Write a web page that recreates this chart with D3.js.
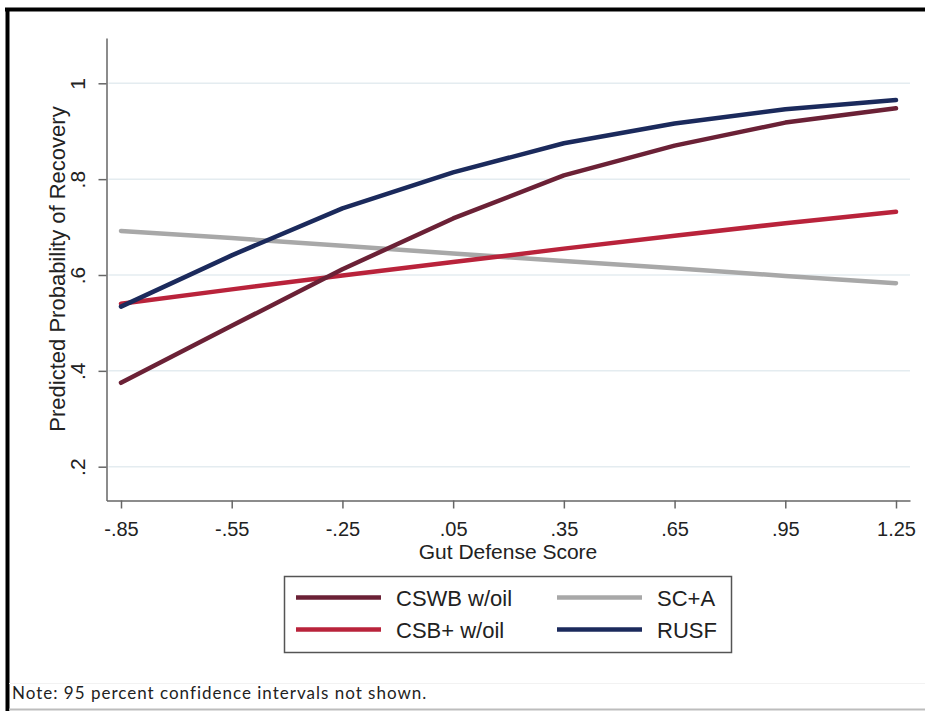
<!DOCTYPE html>
<html>
<head>
<meta charset="utf-8">
<script src="https://cdn.jsdelivr.net/npm/d3@7"></script>
<style>
  body { margin: 0; background: #fff; }
  text { font-family: "Liberation Sans", Arial, sans-serif; fill: #222; }
</style>
</head>
<body>
<div id="chart"></div>
<script>
// x positions where the predictions were computed
const gutScores = [-0.85, -0.55, -0.25, 0.05, 0.35, 0.65, 0.95, 1.25];
const xTickLabels = ["-.85", "-.55", "-.25", ".05", ".35", ".65", ".95", "1.25"];
const yTicks = [0.2, 0.4, 0.6, 0.8, 1];
const yTickLabels = [".2", ".4", ".6", ".8", "1"];

// predicted probability of recovery per group
const cswbOil = [0.375, 0.494, 0.612, 0.718, 0.808, 0.870, 0.918, 0.948];
const csbPlusOil = [0.540, 0.570, 0.599, 0.627, 0.655, 0.682, 0.708, 0.732];
const scA = [0.692, 0.677, 0.661, 0.645, 0.629, 0.614, 0.598, 0.583];
const rusf = [0.534, 0.641, 0.739, 0.814, 0.875, 0.916, 0.946, 0.965];

const seriesNames = ["CSWB w/oil", "CSB+ w/oil", "SC+A", "RUSF"];
const seriesValues = [cswbOil, csbPlusOil, scA, rusf];
const colors = ["#6b2136", "#b9233b", "#a8a8a8", "#1b2a5c"];

(() => {
  const W = 925, H = 711;

  const svg = d3.select("#chart")
    .append("svg")
    .attr("width", W)
    .attr("height", H);

  // outer frame
  svg.append("line").attr("x1", 5).attr("x2", W).attr("y1", 9.5).attr("y2", 9.5)
    .attr("stroke", "#000").attr("stroke-width", 4);
  svg.append("line").attr("x1", 7.5).attr("x2", 7.5).attr("y1", 8).attr("y2", H)
    .attr("stroke", "#000").attr("stroke-width", 4);
  svg.append("line").attr("x1", 9).attr("x2", W).attr("y1", 683.5).attr("y2", 683.5)
    .attr("stroke", "#f2f2f2").attr("stroke-width", 1);
  svg.append("line").attr("x1", 9).attr("x2", W).attr("y1", 709.5).attr("y2", 709.5)
    .attr("stroke", "#bdbdbd").attr("stroke-width", 2);

  // scales
  const x = d3.scaleLinear().domain([-0.85, 1.25]).range([121, 896]);
  const y = d3.scaleLinear().domain([0.2, 1]).range([466.7, 83.3]);

  const axisLeftX = 106.5, axisBottomY = 500.5;
  const yAxisScale = y.copy().domain([y.invert(axisBottomY), y.invert(38)]).range([axisBottomY, 38]);
  const xAxisScale = x.copy().domain([x.invert(axisLeftX), x.invert(910)]).range([axisLeftX, 910]);

  // gridlines
  svg.append("g")
    .selectAll("line")
    .data(yTicks)
    .enter().append("line")
    .attr("x1", axisLeftX + 2)
    .attr("x2", 910)
    .attr("y1", d => y(d))
    .attr("y2", d => y(d))
    .attr("stroke", "#e4ecf0")
    .attr("stroke-width", 1.5);

  // y axis
  const gy = svg.append("g")
    .attr("transform", `translate(${axisLeftX},0)`)
    .call(d3.axisLeft(yAxisScale)
      .tickValues(yTicks)
      .tickFormat((d, i) => yTickLabels[i])
      .tickSize(8)
      .tickSizeOuter(0));
  gy.select(".domain").attr("stroke", "#666").attr("stroke-width", 1.5);
  gy.selectAll(".tick line").attr("stroke", "#666").attr("stroke-width", 1.5);
  gy.selectAll(".tick text")
    .attr("x", 0).attr("y", 0).attr("dy", 0)
    .attr("transform", "translate(-22,0) rotate(-90)")
    .attr("text-anchor", "middle")
    .style("font-size", "21px")
    .style("font-family", "'Liberation Sans', Arial, sans-serif")
    .attr("fill", "#222");

  // x axis
  const gx = svg.append("g")
    .attr("transform", `translate(0,${axisBottomY})`)
    .call(d3.axisBottom(xAxisScale)
      .tickValues(gutScores)
      .tickFormat((d, i) => xTickLabels[i])
      .tickSize(8)
      .tickSizeOuter(0));
  gx.select(".domain").attr("stroke", "#666").attr("stroke-width", 1.5);
  gx.selectAll(".tick line").attr("stroke", "#666").attr("stroke-width", 1.5);
  gx.selectAll(".tick text")
    .attr("y", 35).attr("dy", 0)
    .style("font-size", "20px")
    .style("font-family", "'Liberation Sans', Arial, sans-serif")
    .attr("fill", "#222");

  // axis titles
  svg.append("text")
    .attr("x", 508)
    .attr("y", 559)
    .attr("text-anchor", "middle")
    .style("font-size", "21px")
    .text("Gut Defense Score");

  svg.append("text")
    .attr("transform", "translate(65,269) rotate(-90)")
    .attr("text-anchor", "middle")
    .style("font-size", "22px")
    .text("Predicted Probability of Recovery");

  // lines
  const line = d3.line()
    .x((d, i) => x(gutScores[i]))
    .y(d => y(d));

  const drawOrder = [2, 1, 0, 3];
  drawOrder.forEach(k => {
    svg.append("path")
      .datum(seriesValues[k])
      .attr("d", line)
      .attr("fill", "none")
      .attr("stroke", colors[k])
      .attr("stroke-width", 4.5)
      .attr("stroke-linecap", "round")
      .attr("stroke-linejoin", "round");
  });

  // legend
  const legend = svg.append("g");
  legend.append("rect")
    .attr("x", 284.5).attr("y", 576.5)
    .attr("width", 447).attr("height", 76)
    .attr("fill", "#fff")
    .attr("stroke", "#555")
    .attr("stroke-width", 1.5);

  // Stata fills legend row-wise: CSWB, SC+A / CSB+, RUSF
  const legendPos = [
    { lx: 296, ly: 597.5 },
    { lx: 296, ly: 629.5 },
    { lx: 557, ly: 597.5 },
    { lx: 557, ly: 629.5 }
  ];
  seriesNames.forEach((name, i) => {
    const p = legendPos[i];
    legend.append("line")
      .attr("x1", p.lx).attr("x2", p.lx + 85)
      .attr("y1", p.ly).attr("y2", p.ly)
      .attr("stroke", colors[i])
      .attr("stroke-width", 4.5);
    legend.append("text")
      .attr("x", p.lx + 100)
      .attr("y", p.ly + 8)
      .style("font-size", "22px")
      .text(name);
  });

  // note
  svg.append("text")
    .attr("x", 12)
    .attr("y", 699)
    .style("font-family", "'Gill Sans', Lato, 'Open Sans', sans-serif")
    .style("font-size", "17px")
    .style("letter-spacing", "1px")
    .attr("fill", "#111")
    .text("Note: 95 percent confidence intervals not shown.");
})();
</script>
</body>
</html>
